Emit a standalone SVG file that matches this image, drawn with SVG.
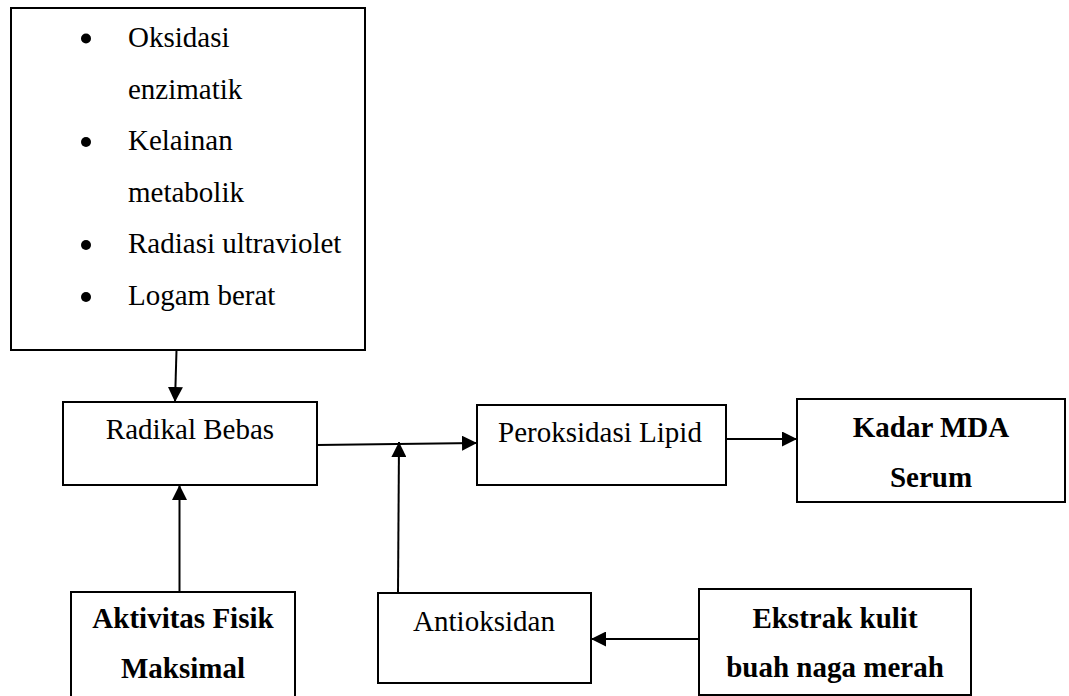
<svg xmlns="http://www.w3.org/2000/svg" width="1069" height="696" viewBox="0 0 1069 696">
<style>
.box{fill:#fff;stroke:#000;stroke-width:2}
.t{font-family:"Liberation Serif","Times New Roman",serif;font-size:29px;fill:#000}
.c{text-anchor:middle}
.b{font-weight:bold}
.con{fill:none;stroke:#000;stroke-width:2}
</style>
<defs>
<marker id="ah" markerWidth="15" markerHeight="15" refX="15" refY="7.5" orient="auto" markerUnits="userSpaceOnUse">
<path d="M0,0 L15,7.5 L0,15 z" fill="#000"/>
</marker>
</defs>
<rect width="1069" height="696" fill="#fff"/>
<g id="faktor">
<rect class="box" x="11" y="8" width="354" height="342"/>
<circle cx="86" cy="38.5" r="5"/>
<circle cx="86" cy="142" r="5"/>
<circle cx="86" cy="245" r="5"/>
<circle cx="86" cy="297" r="5"/>
<text class="t" x="128" y="47">Oksidasi</text>
<text class="t" x="128" y="98.5">enzimatik</text>
<text class="t" x="128" y="150">Kelainan</text>
<text class="t" x="128" y="201.5">metabolik</text>
<text class="t" x="128" y="253">Radiasi ultraviolet</text>
<text class="t" x="128" y="305">Logam berat</text>
</g>
<g id="radikal">
<rect class="box" x="63" y="402" width="254" height="83"/>
<text class="t c" x="190" y="439">Radikal Bebas</text>
</g>
<g id="peroksidasi">
<rect class="box" x="477" y="405" width="249" height="80"/>
<text class="t c" x="600" y="442">Peroksidasi Lipid</text>
</g>
<g id="kadar">
<rect class="box" x="797" y="399" width="268" height="103"/>
<text class="t c b" x="931" y="437">Kadar MDA</text>
<text class="t c b" x="931" y="487">Serum</text>
</g>
<g id="aktivitas">
<rect class="box" x="71" y="592" width="224" height="110"/>
<text class="t c b" x="183" y="628">Aktivitas Fisik</text>
<text class="t c b" x="183" y="678">Maksimal</text>
</g>
<g id="antioksidan">
<rect class="box" x="378" y="593" width="213" height="90"/>
<text class="t c" x="484" y="631">Antioksidan</text>
</g>
<g id="ekstrak">
<rect class="box" x="699" y="589" width="272" height="106"/>
<text class="t c b" x="835" y="628">Ekstrak kulit</text>
<text class="t c b" x="835" y="677">buah naga merah</text>
</g>
<g id="connectors">
<path class="con" d="M176.5,350 L175,402" marker-end="url(#ah)"/>
<path class="con" d="M179.5,592 L179.5,485" marker-end="url(#ah)"/>
<path class="con" d="M317,445 L477,443" marker-end="url(#ah)"/>
<path class="con" d="M398,593 L399,442" marker-end="url(#ah)"/>
<path class="con" d="M726,439 L797,439" marker-end="url(#ah)"/>
<path class="con" d="M699,639 L591,639" marker-end="url(#ah)"/>
</g>
</svg>
